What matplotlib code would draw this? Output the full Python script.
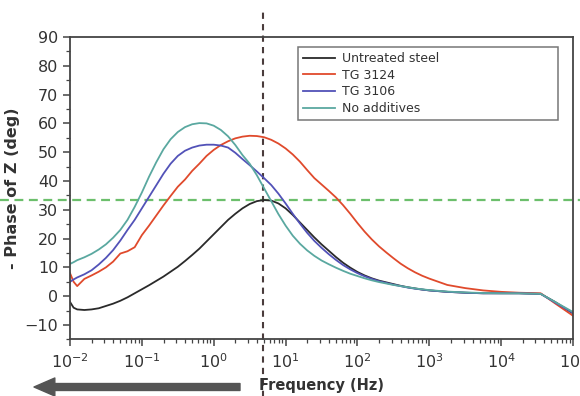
import numpy as np
import matplotlib
matplotlib.use("Agg")
import matplotlib.pyplot as plt
from matplotlib.ticker import LogLocator, MultipleLocator, NullFormatter

# frequency grid as log10(f / Hz)
log_freq = [-2.0, -1.95, -1.9, -1.8, -1.7, -1.6, -1.5, -1.4, -1.3, -1.2, -1.1,
            -1.0, -0.9, -0.8, -0.7, -0.6, -0.5, -0.4, -0.3, -0.2, -0.1, 0.0,
            0.1, 0.2, 0.3, 0.4, 0.5, 0.6, 0.7, 0.8, 0.9, 1.0, 1.1, 1.2, 1.3,
            1.4, 1.5, 1.6, 1.7, 1.8, 1.9, 2.0, 2.1, 2.2, 2.3, 2.4, 2.5, 2.6,
            2.7, 2.8, 2.9, 3.0, 3.25, 3.5, 3.75, 4.0, 4.25, 4.55, 4.75, 5.0]

untreated = [-2.0, -4.0, -4.6, -4.8, -4.6, -4.2, -3.4, -2.6, -1.6, -0.4, 1.0,
             2.4, 3.8, 5.3, 6.8, 8.5, 10.2, 12.2, 14.3, 16.5, 19.0, 21.5,
             24.0, 26.5, 28.6, 30.5, 32.0, 33.0, 33.4, 33.2, 32.2, 30.5, 28.2,
             25.6, 23.0, 20.4, 18.0, 15.8, 13.6, 11.6, 9.9, 8.4, 7.2, 6.2, 5.4,
             4.8, 4.2, 3.6, 3.1, 2.7, 2.3, 2.0, 1.5, 1.2, 1.0, 1.0, 1.0, 0.8,
             -2.0, -6.0]

tg3124 = [8.0, 5.0, 3.5, 6.0, 7.2, 8.5, 10.0, 12.0, 14.8, 15.6, 17.0,
          21.2, 24.5, 28.0, 31.5, 34.8, 38.0, 40.5, 43.5, 46.0, 48.7, 50.8,
          52.5, 53.8, 54.8, 55.4, 55.7, 55.6, 55.2, 54.3, 53.0, 51.3, 49.2,
          46.7, 43.8, 41.0, 38.8, 36.6, 34.3, 31.6, 28.6, 25.4, 22.4, 19.7,
          17.3, 15.2, 13.2, 11.3, 9.7, 8.3, 7.1, 6.1, 3.9, 2.8, 2.0, 1.5, 1.2,
          1.0, -2.5, -6.8]

tg3106 = [5.0, 5.8, 6.5, 7.6, 9.0, 11.0, 13.3, 16.0, 19.3, 23.0, 26.5,
          30.5, 34.5, 38.5, 42.5, 46.0, 48.7, 50.5, 51.6, 52.3, 52.6, 52.6,
          52.3, 51.6, 49.8, 47.6, 45.5, 43.3, 41.0, 38.6, 35.6, 32.2, 28.6,
          25.2, 22.0, 19.2, 16.8, 14.6, 12.6, 10.8, 9.3, 8.0, 6.9, 6.0, 5.2,
          4.6, 4.0, 3.5, 3.0, 2.6, 2.3, 2.0, 1.5, 1.2, 1.0, 1.0, 1.0, 0.8,
          -2.2, -5.8]

no_additives = [11.2, 11.8, 12.5, 13.5, 14.7, 16.2, 18.0, 20.3, 23.0, 26.5, 31.0,
                36.0, 41.5, 46.5, 51.0, 54.5, 57.0, 58.7, 59.7, 60.1, 60.0, 59.2,
                57.7, 55.5, 52.5, 49.0, 46.0, 42.0, 37.5, 33.0, 28.5, 24.5, 21.0,
                18.2, 15.9, 14.0, 12.4, 11.1, 9.9, 8.8, 7.8, 7.0, 6.2, 5.5, 4.9,
                4.4, 3.9, 3.5, 3.1, 2.7, 2.4, 2.1, 1.6, 1.3, 1.1, 1.0, 1.0, 0.8,
                -2.0, -5.5]

labels = ["Untreated steel", "TG 3124", "TG 3106", "No additives"]
colors = ["#2a2a2a", "#e04a2c", "#5252b8", "#5aa8a0"]

peak_freq = 4.8      # Hz, vertical marker
phase_level = 33.3   # deg, horizontal marker

freq = 10 ** np.array(log_freq)

fig = plt.figure(figsize=(5.8, 3.96), dpi=100)
ax = fig.add_axes([0.1207, 0.143, 0.8673, 0.7636])

for vals, lab, col in zip([untreated, tg3124, tg3106, no_additives], labels, colors):
    ax.plot(freq, vals, color=col, lw=1.3, label=lab)

ax.set_xscale("log")
ax.set_xlim(1e-2, 1e5)
ax.set_ylim(-15, 90)
ax.yaxis.set_major_locator(MultipleLocator(10))
ax.yaxis.set_minor_locator(MultipleLocator(5))
ax.xaxis.set_major_locator(LogLocator(base=10, numticks=10))
ax.xaxis.set_minor_locator(LogLocator(base=10, subs=np.arange(2, 10), numticks=10))
ax.xaxis.set_minor_formatter(NullFormatter())

for s in ax.spines.values():
    s.set_color("#444444")
    s.set_linewidth(1.3)
ax.tick_params(which="major", direction="out", length=5, width=1.1,
               color="#444444", labelsize=11.5, labelcolor="#333333")
ax.tick_params(which="minor", direction="out", length=3, width=0.9, color="#444444")
ax.tick_params(axis="x", pad=4)

ax.set_ylabel("- Phase of Z (deg)", fontsize=11.5, fontweight="bold", color="#333333", labelpad=3)
ax.set_xlabel("Frequency (Hz)", fontsize=10.5, fontweight="bold", color="#333333", labelpad=5)

# reference lines running past the plot frame
ax.axhline(phase_level, xmin=-0.14, xmax=1.02, color="#6cbf6c", ls=(0, (4, 2.5)),
           lw=1.6, clip_on=False, zorder=1)
ax.axvline(peak_freq, ymin=-0.19, ymax=1.09, color="#4a3c3c", ls=(0, (3, 2.5)),
           lw=1.5, clip_on=False, zorder=1)

leg = ax.legend(loc="upper left", bbox_to_anchor=(0.453, 0.7255, 0.517, 0.2415),
                mode="expand", fontsize=9, frameon=True, fancybox=False,
                borderaxespad=0, handlelength=2.6, labelspacing=0.3,
                borderpad=0.4, handletextpad=0.5)
leg.get_frame().set_edgecolor("#555555")
leg.get_frame().set_linewidth(1.1)
for t in leg.get_texts():
    t.set_color("#333333")

# direction arrow below the axis
ax.annotate("", xy=(34, 9), xytext=(240, 9), xycoords="figure pixels",
            textcoords="figure pixels",
            arrowprops=dict(width=5, headwidth=13, headlength=15,
                            color="#555555", shrink=0))

fig.savefig("out.png", dpi=100)
